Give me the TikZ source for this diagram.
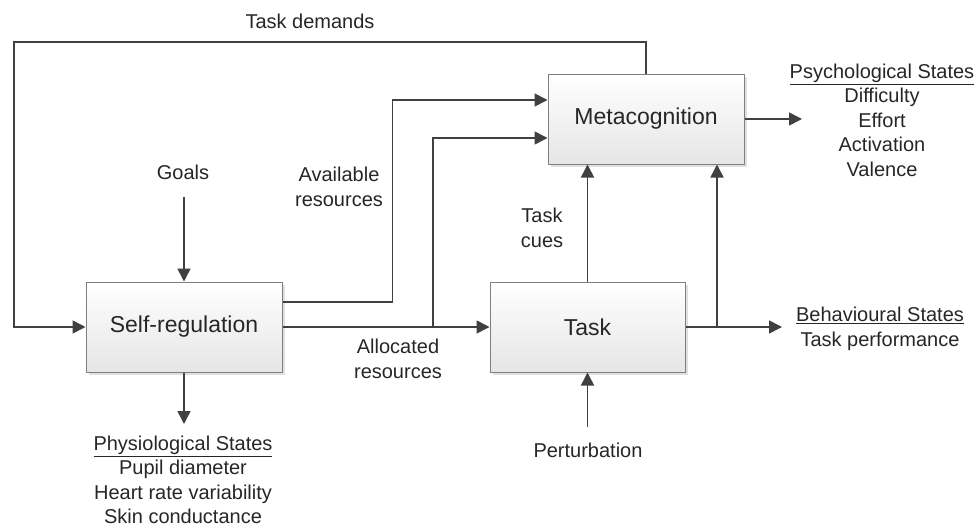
\documentclass[tikz,border=0pt]{standalone}
\usepackage{fontspec}
\setmainfont{Liberation Sans}
\usetikzlibrary{arrows.meta,shadows,calc}
\definecolor{ln}{HTML}{404040}
\definecolor{bd}{HTML}{7F7F7F}
\begin{document}
\begin{tikzpicture}[x=1pt,y=-1pt,
  blk/.style={draw=bd, line width=1pt, minimum width=196pt, minimum height=90pt,
    top color=white, bottom color=black!10,
    drop shadow={shadow xshift=2.5pt,shadow yshift=-2.5pt,fill=black!30,opacity=0.4},
    font=\fontsize{23}{27}\selectfont, text=black!85},
  lbl/.style={font=\fontsize{20}{24.5}\selectfont, align=center, text=black!85, inner sep=0pt},
  con/.style={draw=ln, line width=1.6pt},
  arr/.style={con, -{Triangle[length=13pt,width=13pt]}},
]
\useasboundingbox (0,0) rectangle (979,527);

% blocks
\node[blk] (SR) at (184,327) {Self-regulation};
\node[blk, minimum width=195pt] (T) at (587.5,327) {Task};
\node[blk] (M) at (646,119) {Metacognition};

% labels
\node[lbl] (td) at (310,21) {Task demands};
\node[lbl] (goals) at (183,172) {Goals};
\node[lbl] (avail) at (339,187) {Available\\resources};
\node[lbl] (alloc) at (398,359) {Allocated\\resources};
\node[lbl] (cues) at (542,228) {Task\\cues};
\node[lbl] (pert) at (588,450) {Perturbation};
\node[lbl] (phys) at (183,480) {\underline{Physiological States}\\Pupil diameter\\Heart rate variability\\Skin conductance};
\node[lbl] (psy) at (882,120) {\underline{Psychological States}\\Difficulty\\Effort\\Activation\\Valence};
\node[lbl] (beh) at (880,329) {\underline{Behavioural States}\\Task performance};

% helper coordinates
\coordinate (g0) at (184,197);
\coordinate (p0) at (587.5,427);
\coordinate (physTop) at (184,424);
\coordinate (psyArr) at (802,119);
\coordinate (behArr) at (782,327);
\coordinate (tdL) at (14,42);
\coordinate (brA) at (433,327);
\coordinate (brT) at (717,327);
\coordinate (mA) at ($(M.west)+(0,-19)$);
\coordinate (mB) at ($(M.west)+(0,19)$);
\coordinate (srA) at ($(SR.east)+(0,-25)$);

% connectors
\draw[arr] (M.north) |- (tdL) |- (SR.west);
\draw[arr] (g0) -- (SR.north);
\draw[arr] (srA) -| ($(mA)+(-155,0)$) -- (mA);
\draw[arr] (SR.east) -- (T.west);
\draw[arr] (brA) |- (mB);
\draw[arr] (T.north) -- (T.north |- M.south);
\draw[con] (T.east) -- (brT);
\draw[arr] (brT) -- (behArr);
\draw[arr] (brT) -- (brT |- M.south);
\draw[arr] (p0) -- (T.south);
\draw[arr] (SR.south) -- (physTop);
\draw[arr] (M.east) -- (psyArr);
\end{tikzpicture}
\end{document}
